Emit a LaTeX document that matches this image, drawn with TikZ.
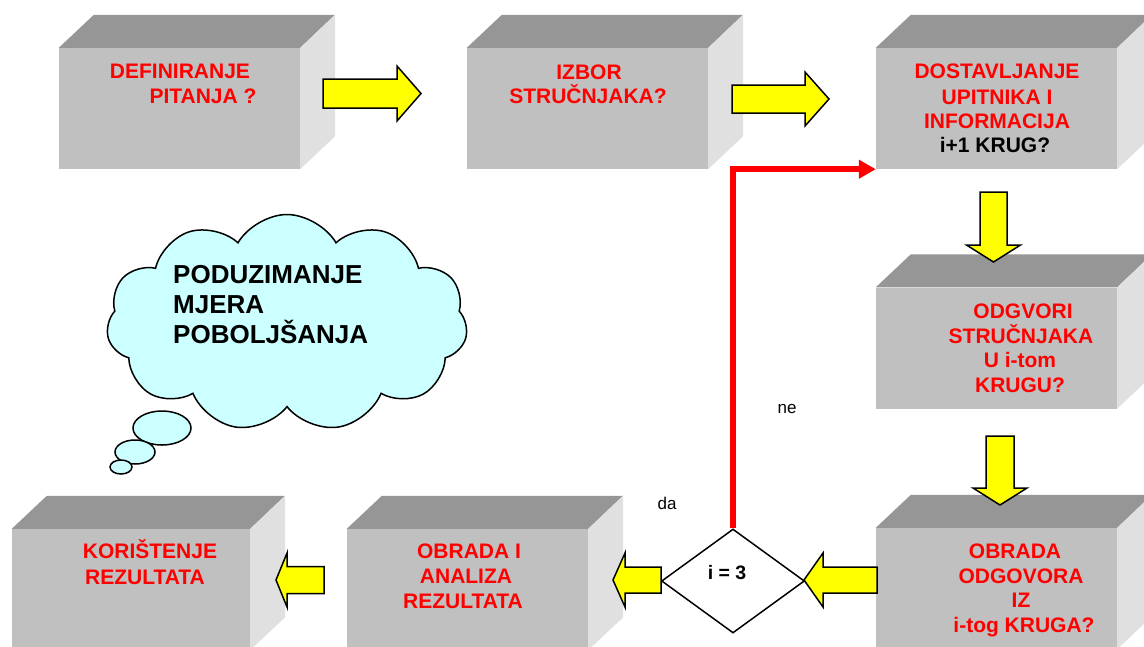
\documentclass[tikz,border=0pt]{standalone}
\usepackage{fontspec}
\setmainfont{Liberation Sans}
\usetikzlibrary{shapes.geometric,shapes.symbols,arrows.meta,calc}
\definecolor{boxfront}{RGB}{192,192,192}
\definecolor{boxtop}{RGB}{150,150,150}
\definecolor{boxside}{RGB}{224,224,224}
\definecolor{cloudfill}{RGB}{204,255,255}
\definecolor{redtxt}{RGB}{255,0,0}
\definecolor{yel}{RGB}{255,255,0}
% cube: name, x, y, width
\newcommand\mycube[4]{%
  \node[cubefront, minimum width=#4pt] (#1) at (#2,#3) {};
  \fill[cubetop] (#1.north west) -- ++(35,-33) -- ++(#4,0) -- (#1.north east) -- cycle;
  \fill[cubeside] (#1.north east) -- ++(35,-33) -- ($(#1.south east)+(35,-33)$) -- (#1.south east) -- cycle;
}
% horizontal block arrow: name, xs, xb, xt, y, bw, hw
\newcommand\harrow[7]{%
  \coordinate (#1s) at (#2,#5);
  \coordinate (#1t) at (#4,#5);
  \draw[yarr] ($(#1s)+(0,-#6)$) -- (#3,#5-#6) -- (#3,#5-#7) -- (#1t) -- (#3,#5+#7) -- (#3,#5+#6) -- ($(#1s)+(0,#6)$) -- cycle;
}
% vertical block arrow: name, ys, yb, yt, x, bw, hw
\newcommand\varrow[7]{%
  \coordinate (#1s) at (#5,#2);
  \coordinate (#1t) at (#5,#4);
  \draw[yarr] ($(#1s)+(-#6,0)$) -- (#5-#6,#3) -- (#5-#7,#3) -- (#1t) -- (#5+#7,#3) -- (#5+#6,#3) -- ($(#1s)+(#6,0)$) -- cycle;
}
\begin{document}
\begin{tikzpicture}[x=1pt,y=-1pt,
  cubefront/.style={rectangle, fill=boxfront, inner sep=0pt, minimum height=121pt},
  cubetop/.style={fill=boxtop},
  cubeside/.style={fill=boxside},
  btext/.style={text=redtxt, font=\fontsize{21}{24}\selectfont\bfseries, inner sep=0pt, anchor=base},
  ktext/.style={btext, text=black},
  ctext/.style={text=black, font=\fontsize{26}{30}\selectfont\bfseries, inner sep=0pt, anchor=base west},
  smalltext/.style={text=black, font=\fontsize{17}{20}\selectfont, inner sep=0pt, anchor=base},
  yarr/.style={draw=black, line width=1.5pt, fill=yel, line join=miter},
  redconn/.style={draw=redtxt, line width=5.5pt, -{Triangle[length=17pt,width=18pt]}},
  cloudst/.style={draw=black, line width=1.5pt, fill=cloudfill},
  decision/.style={diamond, draw=black, line width=1.5pt, fill=white, inner sep=0pt, minimum width=143pt, minimum height=104pt}
]
\useasboundingbox (0,0) rectangle (1144,646);
\clip (0,0) rectangle (1144,646);

% boxes
\mycube{b1}{179.5}{108.5}{241}
\mycube{b2}{587.5}{108.5}{241}
\mycube{b3}{996.5}{108.5}{241}
\mycube{b4}{996.5}{348}{241}
\mycube{b5}{996.5}{588.5}{241}
\mycube{b6}{467.5}{589.5}{241}
\mycube{b7}{131}{589.5}{238}

% box texts
\node[btext] (t1a) at (180,78) {DEFINIRANJE};
\node[btext] (t1b) at (203,103) {PITANJA ?};
\node[btext] (t2a) at (589,79) {IZBOR};
\node[btext] (t2b) at (588,103) {STRUČNJAKA?};
\node[btext] (t3a) at (997,78) {DOSTAVLJANJE};
\node[btext] (t3b) at (997,104) {UPITNIKA I};
\node[btext] (t3c) at (997,128) {INFORMACIJA};
\node[ktext] (t3d) at (995,152) {i+1 KRUG?};
\node[btext] (t4a) at (1023,318) {ODGVORI};
\node[btext] (t4b) at (1021,343) {STRUČNJAKA};
\node[btext] (t4c) at (1020,367) {U i-tom};
\node[btext] (t4d) at (1020,392) {KRUGU?};
\node[btext] (t5a) at (1015,558) {OBRADA};
\node[btext] (t5b) at (1021,583) {ODGOVORA};
\node[btext] (t5c) at (1021,607) {IZ};
\node[btext] (t5d) at (1024,632) {i-tog KRUGA?};
\node[btext] (t6a) at (469,558) {OBRADA I};
\node[btext] (t6b) at (466,583) {ANALIZA};
\node[btext] (t6c) at (463,608) {REZULTATA};
\node[btext] (t7a) at (150,558) {KORIŠTENJE};
\node[btext] (t7b) at (145,584) {REZULTATA};

% decision
\node[decision] (dec) at (733,581) {};
\node[ktext, font=\fontsize{19.5}{22}\selectfont\bfseries] (dect) at (727,579) {i = 3};

% block arrows
\harrow{a1}{323}{397}{421}{93.5}{14.5}{27.5}
\harrow{a2}{732}{805}{829}{99}{14}{27}
\varrow{a3}{192}{245}{262}{993.5}{13.5}{27}
\varrow{a4}{436}{488}{505}{1000}{14}{27}
\harrow{a5}{877}{823}{804}{580}{13}{27}
\harrow{a6}{661}{625}{613}{580}{13}{27}
\harrow{a7}{324}{287}{276}{580}{13.5}{27}

% red connector
\draw[redconn] (dec.north) |- (b3.south west);

% labels
\node[smalltext] (ne) at (787,413) {ne};
\node[smalltext] (da) at (667,509) {da};

% cloud
\node[cloud, cloud puffs=11, cloud puff arc=120, aspect=1.66, cloudst, minimum width=361pt, minimum height=217pt, inner sep=0pt] (cloud) at (287,323) {};
\node[ellipse, cloudst, minimum width=58pt, minimum height=34pt, inner sep=0pt] (bub1) at (162,428) {};
\node[ellipse, cloudst, minimum width=40pt, minimum height=24pt, inner sep=0pt] (bub2) at (135,452) {};
\node[ellipse, cloudst, minimum width=22pt, minimum height=14pt, inner sep=0pt] (bub3) at (121,467) {};
\node[ctext] (c1) at (173,283) {PODUZIMANJE};
\node[ctext] (c2) at (173,313) {MJERA};
\node[ctext] (c3) at (173,343) {POBOLJŠANJA};
\end{tikzpicture}
\end{document}
